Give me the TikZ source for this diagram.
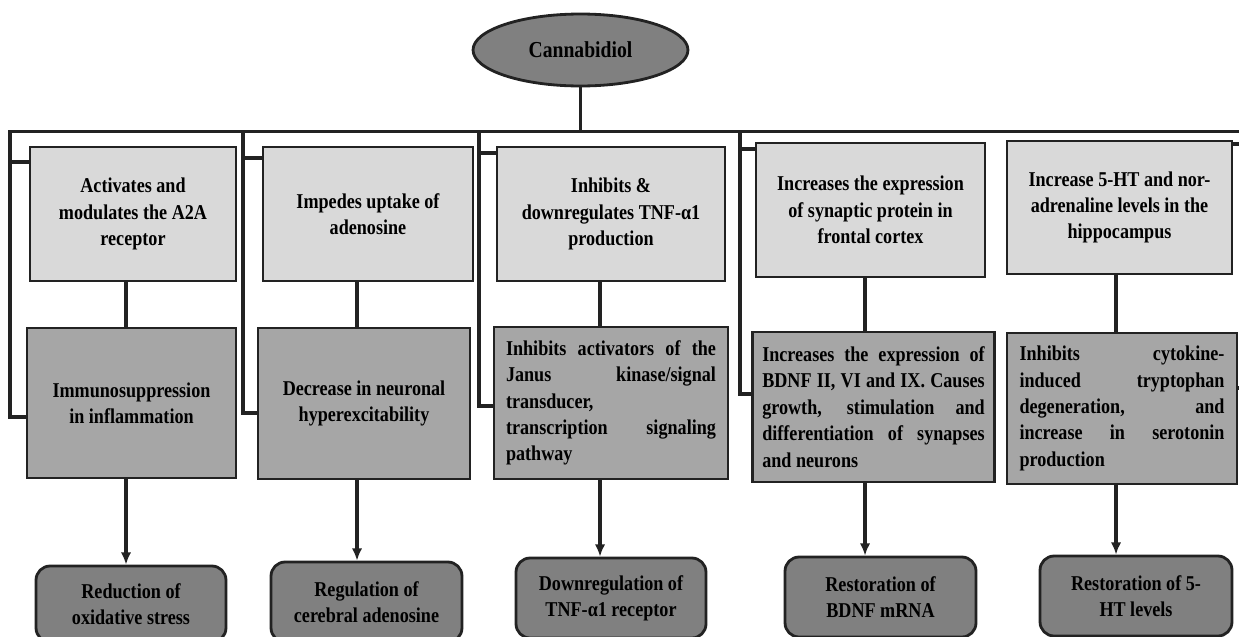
\documentclass[tikz,border=0pt]{standalone}
\usepackage{fontspec}
\setmainfont{Liberation Serif}[FakeStretch=0.86]
\usetikzlibrary{shapes.geometric,arrows.meta}

\definecolor{toplight}{HTML}{D9D9D9}
\definecolor{midgray}{HTML}{A6A6A6}
\definecolor{endgray}{HTML}{808080}
\definecolor{linegray}{HTML}{222222}

\begin{document}
\begin{tikzpicture}[x=0.02cm,y=-0.02cm,
    every node/.style={font=\bfseries\fontsize{12}{15}\selectfont},
    conn/.style={draw=linegray,line width=2pt},
    topbox/.style={draw=linegray,line width=1.6pt,fill=toplight,align=center,inner sep=0pt},
    midbox/.style={draw=linegray,line width=1.6pt,fill=midgray,inner sep=0pt},
    endbox/.style={draw=linegray,line width=1.6pt,fill=endgray,rounded corners=8pt,align=center,inner sep=0pt},
    >={Latex[length=7pt,width=6pt]}]
    \useasboundingbox (0,0) rectangle (1239,636);

    % root
    \node[ellipse,draw=linegray,line width=1.6pt,fill=endgray,minimum width=4.3cm,minimum height=1.44cm,inner sep=0pt,
      font=\bfseries\fontsize{13}{15}\selectfont] (cbd) at (580.5,50) {Cannabidiol};

    % first row: actions
    \node[topbox,minimum width=4.12cm,minimum height=2.68cm] (t1) at (133,214) {Activates and\\modulates the A2A\\receptor};
    \node[topbox,minimum width=4.2cm,minimum height=2.68cm] (t2) at (368,214) {Impedes uptake of\\adenosine};
    \node[topbox,minimum width=4.56cm,minimum height=2.68cm] (t3) at (611,214) {Inhibits \&\\downregulates TNF-α1\\production};
    \node[topbox,minimum width=4.58cm,minimum height=2.68cm] (t4) at (870.5,210) {Increases the expression\\of synaptic protein in\\frontal cortex};
    \node[topbox,minimum width=4.5cm,minimum height=2.66cm] (t5) at (1119.5,207.5) {Increase 5-HT and nor-\\adrenaline levels in the\\hippocampus};

    % second row: mechanisms
    \node[midbox,align=center,minimum width=4.18cm,minimum height=3.0cm] (m1) at (131.5,403) {Immunosuppression\\in inflammation};
    \node[midbox,align=center,minimum width=4.24cm,minimum height=3.02cm] (m2) at (364,403.5) {Decrease in neuronal\\hyperexcitability};
    \node[midbox,align=justify,text width=4.2cm,inner xsep=0.24cm,minimum height=3.04cm] (m3) at (611,403)
      {Inhibits activators of the\linebreak Janus kinase/signal\linebreak transducer,\\transcription signaling\linebreak pathway};
    \node[midbox,align=justify,text width=4.45cm,inner xsep=0.19cm,minimum height=3.0cm] (m4) at (873.5,407)
      {Increases the expression of\linebreak BDNF II, VI and IX. Causes\linebreak growth, stimulation and\linebreak differentiation of synapses\linebreak and neurons};
    \node[midbox,align=justify,text width=4.1cm,inner xsep=0.25cm,minimum height=3.02cm] (m5) at (1122,408.5)
      {Inhibits cytokine-\linebreak induced tryptophan\linebreak degeneration, and\linebreak increase in serotonin\linebreak production};

    % third row: outcomes
    \node[endbox,minimum width=3.8cm,minimum height=1.52cm] (b1) at (131,604) {Reduction of\\oxidative stress};
    \node[endbox,minimum width=3.82cm,minimum height=1.6cm] (b2) at (366.5,602) {Regulation of\\cerebral adenosine};
    \node[endbox,minimum width=3.8cm,minimum height=1.6cm] (b3) at (611,598) {Downregulation of\\TNF-α1 receptor};
    \node[endbox,minimum width=3.82cm,minimum height=1.6cm] (b4) at (880.5,597) {Restoration of\\BDNF mRNA};
    \node[endbox,minimum width=3.84cm,minimum height=1.6cm] (b5) at (1136,596) {Restoration of 5-\\HT levels};

    % bus and brackets
    \coordinate (busL) at (10,131.5);
    \coordinate (busR) at (1239,131.5);
    \coordinate (h1) at (10,162);   \coordinate (j1) at (10,417);
    \coordinate (k2) at (243,131.5); \coordinate (h2) at (243,158); \coordinate (j2) at (243,413);
    \coordinate (k3) at (479,131.5); \coordinate (h3) at (479,153); \coordinate (j3) at (479,406);
    \coordinate (k4) at (740,131.5); \coordinate (h4) at (740,149); \coordinate (j4) at (740,394);
    \coordinate (r5a) at (1239,144); \coordinate (r5b) at (1239,388);

    \draw[conn] (cbd.south) -- (cbd.south |- busL);
    \draw[conn] (busR) -- (busL) -- (j1) -- (j1 -| m1.west);
    \draw[conn] (h1) -- (h1 -| t1.west);
    \draw[conn] (k2) -- (j2) -- (j2 -| m2.west);
    \draw[conn] (h2) -- (h2 -| t2.west);
    \draw[conn] (k3) -- (j3) -- (j3 -| m3.west);
    \draw[conn] (h3) -- (h3 -| t3.west);
    \draw[conn] (k4) -- (j4) -- (j4 -| m4.west);
    \draw[conn] (h4) -- (h4 -| t4.west);
    \draw[conn] (t5.east |- r5a) -- (r5a);
    \draw[conn] (m5.east |- r5b) -- (r5b);

    % columns
    \coordinate (s1) at (126,0);
    \coordinate (s2) at (357,0);
    \coordinate (s3) at (600,0);
    \coordinate (s4) at (865,0);
    \coordinate (s5) at (1116,0);
    \draw[conn] (t1.south -| s1) -- (m1.north -| s1);
    \draw[conn] (t2.south -| s2) -- (m2.north -| s2);
    \draw[conn] (t3.south -| s3) -- (m3.north -| s3);
    \draw[conn] (t4.south -| s4) -- (m4.north -| s4);
    \draw[conn] (t5.south -| s5) -- (m5.north -| s5);
    \draw[conn,->] (m1.south -| s1) -- (b1.north -| s1);
    \draw[conn,->] (m2.south -| s2) -- (b2.north -| s2);
    \draw[conn,->] (m3.south -| s3) -- (b3.north -| s3);
    \draw[conn,->] (m4.south -| s4) -- (b4.north -| s4);
    \draw[conn,->] (m5.south -| s5) -- (b5.north -| s5);
\end{tikzpicture}
\end{document}
